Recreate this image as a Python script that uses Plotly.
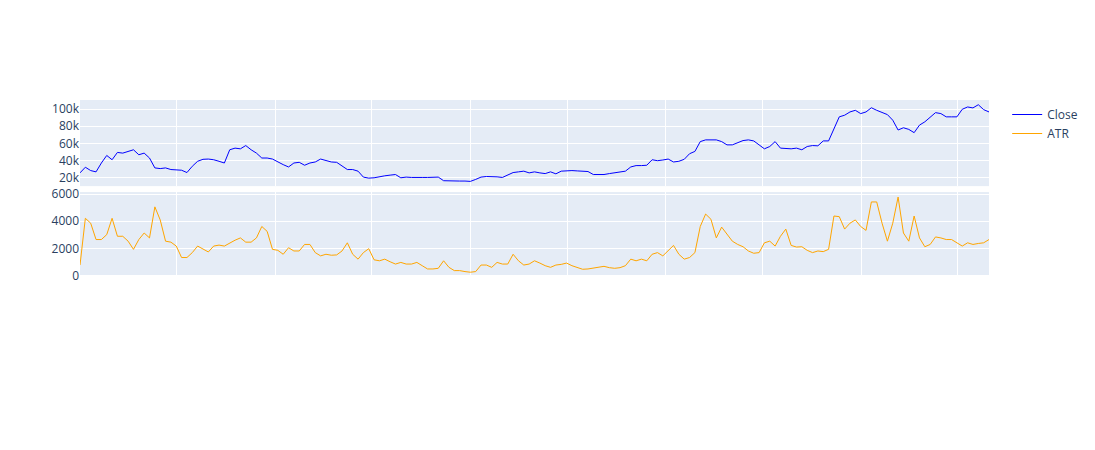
import pandas as pd
import plotly.graph_objects as go
from plotly.subplots import make_subplots

start_date = "2021-01-01"

close = [
    25.7, 32.3, 28.4, 26.9, 37.2, 46.0, 41.0, 49.5, 48.7, 50.6,
    52.6, 46.8, 48.7, 43.0, 31.5, 30.7, 31.5, 29.6, 29.6, 28.8,
    26.1, 33.4, 39.2, 41.5, 41.8, 41.0, 39.2, 37.2, 52.6, 54.5,
    53.7, 57.5, 52.6, 48.7, 43.0, 43.0, 41.8, 38.4, 35.3, 32.6,
    37.2, 38.0, 34.6, 37.2, 38.4, 41.8, 39.9, 38.4, 38.0, 33.4,
    29.6, 29.6, 27.7, 20.8, 19.6, 20.0, 21.5, 22.3, 23.1, 23.8,
    20.0, 20.8, 20.4, 20.0, 20.4, 20.4, 20.4, 20.8, 16.6, 16.2,
    16.2, 16.2, 16.2, 15.8, 18.1, 20.8, 21.5, 21.5, 21.1, 20.4,
    23.1, 26.1, 26.9, 27.7, 25.7, 26.9, 25.7, 24.9, 26.9, 24.6,
    27.7, 28.4, 28.4, 28.0, 27.7, 27.3, 23.8, 23.8, 23.8, 24.9,
    25.7, 26.1, 27.7, 32.6, 34.2, 34.2, 34.6, 41.0, 39.9, 40.7,
    41.8, 38.4, 39.2, 41.5, 48.0, 50.7, 62.1, 64.1, 64.1, 64.1,
    62.1, 58.3, 58.3, 61.0, 63.3, 64.1, 62.9, 58.3, 53.7, 56.4,
    62.1, 54.5, 53.7, 53.7, 54.5, 52.6, 56.4, 57.5, 57.2, 62.9,
    62.9, 77.5, 90.9, 92.8, 96.6, 98.5, 94.7, 96.6, 101.5, 98.5,
    95.8, 93.5, 87.0, 75.6, 78.2, 76.3, 72.5, 81.3, 85.1, 90.9,
    95.8, 94.7, 90.9, 90.9, 90.9, 99.7, 102.4, 101.3, 105.0, 99.3,
    96.6,
]
close = [v * 1000 for v in close]

atr = [
    770, 4217, 3855, 2651, 2651, 3012, 4217, 2892, 2892, 2530,
    1928, 2651, 3133, 2771, 5060, 4096, 2530, 2458, 2169, 1325,
    1325, 1687, 2169, 1976, 1735, 2169, 2241, 2169, 2410, 2602,
    2771, 2458, 2458, 2771, 3614, 3253, 1928, 1855, 1566, 2048,
    1807, 1807, 2289, 2289, 1687, 1446, 1566, 1494, 1518, 1807,
    2410, 1566, 1205, 1687, 1976, 1157, 1084, 1205, 1012, 843,
    964, 843, 843, 964, 723, 482, 482, 530, 1084, 602,
    361, 361, 289, 241, 289, 771, 771, 602, 964, 843,
    843, 1566, 1084, 771, 843, 1084, 916, 723, 602, 771,
    819, 916, 723, 602, 458, 482, 530, 602, 675, 578,
    530, 578, 723, 1205, 1084, 1205, 1084, 1566, 1687, 1446,
    1807, 2217, 1566, 1205, 1325, 1687, 3614, 4530, 4145, 2771,
    3566, 3012, 2530, 2289, 2120, 1807, 1639, 1687, 2410, 2530,
    2169, 2892, 3422, 2217, 2096, 2120, 1855, 1687, 1807, 1759,
    1928, 4386, 4337, 3422, 3855, 4096, 3614, 3325, 5422, 5422,
    3855, 2530, 3855, 5783, 3133, 2530, 4386, 2771, 2120, 2289,
    2843, 2771, 2651, 2651, 2410, 2169, 2410, 2289, 2361, 2410,
    2651,
]

dates = pd.date_range(start_date, periods=len(close), freq="10D")

fig = make_subplots(rows=2, cols=1, shared_xaxes=True)
fig.add_trace(
    go.Scatter(x=dates, y=close, mode="lines", name="Close",
               line=dict(color="blue", width=1)),
    row=1, col=1,
)
fig.add_trace(
    go.Scatter(x=dates, y=atr, mode="lines", name="ATR",
               line=dict(color="orange", width=1)),
    row=2, col=1,
)

fig.update_layout(
    width=1095,
    height=450,
    yaxis=dict(domain=[0.681, 1.0], range=[10300, 110500], dtick=20000),
    yaxis2=dict(domain=[0.348, 0.659], range=[-40, 6150], dtick=2000),
)
fig.update_xaxes(showticklabels=False, dtick="M6", tick0="2021-01-01")

# drop the default page margin so the figure sits at the window corner
fig.write_html(
    "out.html",
    config={"displayModeBar": False},
    post_script="document.body.style.margin = '0';",
)
